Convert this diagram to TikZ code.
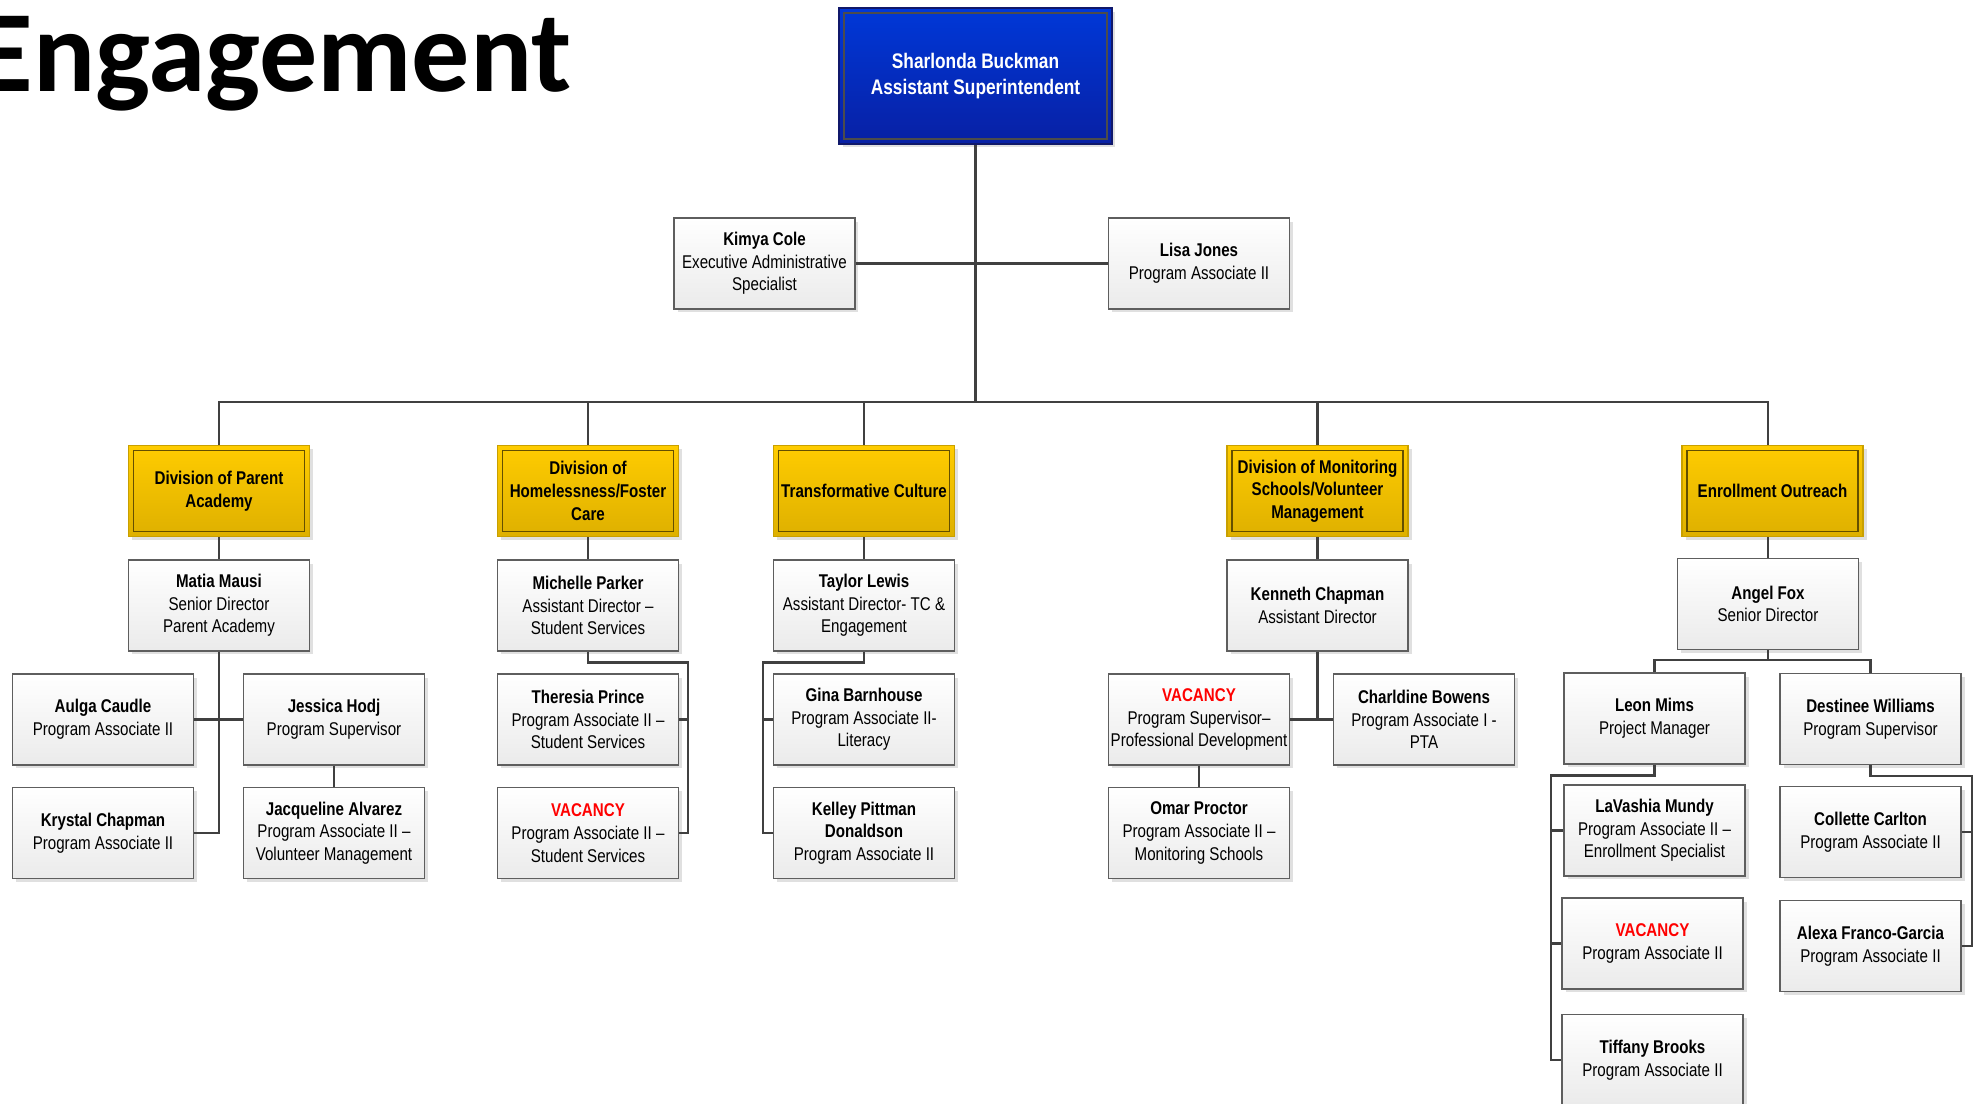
\documentclass[tikz,border=0pt]{standalone}
\usepackage{fontspec}
\setmainfont{Liberation Sans}
\newfontfamily\narrowfont[FakeStretch=0.82]{Liberation Sans}
\newfontfamily\titlefont{Carlito}
\usetikzlibrary{shadows}

\definecolor{linkgray}{HTML}{404040}
\definecolor{boxedge}{HTML}{5E5E5E}
\definecolor{headtop}{HTML}{0038D8}
\definecolor{headbot}{HTML}{0820A4}
\definecolor{headedge}{HTML}{10186A}
\definecolor{goldtop}{HTML}{FFCC00}
\definecolor{goldbot}{HTML}{DEB000}
\definecolor{goldedge}{HTML}{C9A000}
\definecolor{vacred}{HTML}{FF0000}

\newcommand{\vacancy}{\textcolor{vacred}{\textbf{VACANCY}}}

\begin{document}
\begin{tikzpicture}[x=0.02cm, y=-0.02cm,
  link/.style={draw=linkgray, line width=1.4pt},
  unitbox/.style={draw=boxedge, line width=0.8pt, top color=white, bottom color=black!8,
    minimum width=3.62cm, minimum height=1.82cm, inner sep=1pt, align=center,
    font=\narrowfont\fontsize{10.5}{12.9}\selectfont,
    drop shadow={shadow xshift=0.7mm, shadow yshift=-0.7mm, fill=black!12, opacity=1}},
  divbox/.style={unitbox, draw=goldedge, top color=goldtop, bottom color=goldbot,
    font=\narrowfont\bfseries\fontsize{10.5}{12.9}\selectfont,
    path picture={\draw[black!55!goldbot, line width=0.7pt]
      ([shift={(2.8pt,-2.8pt)}]path picture bounding box.north west) rectangle
      ([shift={(-2.8pt,2.8pt)}]path picture bounding box.south east);}},
  headbox/.style={unitbox, draw=headedge, line width=1pt, top color=headtop, bottom color=headbot,
    minimum width=5.46cm, minimum height=2.72cm, text=white,
    font=\narrowfont\bfseries\fontsize{12}{14.7}\selectfont,
    path picture={\draw[black!70, line width=0.7pt]
      ([shift={(2.8pt,-2.8pt)}]path picture bounding box.north west) rectangle
      ([shift={(-2.8pt,2.8pt)}]path picture bounding box.south east);}}]
\useasboundingbox (0,0) rectangle (1980,1104);

\node[font=\titlefont\bfseries\fontsize{66}{70}\selectfont, anchor=base east, inner sep=0pt] (title) at (572,92) {Engagement};

% top of the chart
\node[headbox] (sb) at (975.5,76) {Sharlonda Buckman\\Assistant Superintendent};
\node[unitbox] (kc) at (764.5,263.5) {\textbf{Kimya Cole}\\Executive Administrative\\Specialist};
\node[unitbox] (lj) at (1199,263.5) {\textbf{Lisa Jones}\\Program Associate II};

% divisions
\node[divbox] (dpa) at (219,491) {Division of Parent\\Academy};
\node[divbox] (dhf) at (588,491) {Division of\\Homelessness/Foster\\Care};
\node[divbox] (dtc) at (864,491) {Transformative Culture};
\node[divbox] (dms) at (1317.5,491) {Division of Monitoring\\Schools/Volunteer\\Management};
\node[divbox] (deo) at (1772.5,491) {Enrollment Outreach};

% heads of the divisions
\node[unitbox] (mm) at (219,605.5) {\textbf{Matia Mausi}\\Senior Director\\Parent Academy};
\node[unitbox] (mp) at (588,605.5) {\textbf{Michelle Parker}\\Assistant Director \textendash\\Student Services};
\node[unitbox] (tl) at (864,605.5) {\textbf{Taylor Lewis}\\Assistant Director- TC \&\\Engagement};
\node[unitbox] (kch) at (1317.5,605.5) {\textbf{Kenneth Chapman}\\Assistant Director};
\node[unitbox] (af) at (1768,604) {\textbf{Angel Fox}\\Senior Director};

% staff
\node[unitbox] (ac) at (103,719.5) {\textbf{Aulga Caudle}\\Program Associate II};
\node[unitbox] (jh) at (334,719.5) {\textbf{Jessica Hodj}\\Program Supervisor};
\node[unitbox] (kcp) at (103,833) {\textbf{Krystal Chapman}\\Program Associate II};
\node[unitbox] (ja) at (334,833) {\textbf{Jacqueline Alvarez}\\Program Associate II \textendash\\Volunteer Management};

\node[unitbox] (tp) at (588,719.5) {\textbf{Theresia Prince}\\Program Associate II \textendash\\Student Services};
\node[unitbox] (vss) at (588,833) {\vacancy\\Program Associate II \textendash\\Student Services};

\node[unitbox] (gb) at (864,719.5) {\textbf{Gina Barnhouse}\\Program Associate II-\\Literacy};
\node[unitbox] (kpd) at (864,833) {\textbf{Kelley Pittman}\\\textbf{Donaldson}\\Program Associate II};

\node[unitbox] (vpd) at (1199,719.5) {\vacancy\\Program Supervisor\textendash\\Professional Development};
\node[unitbox] (cb) at (1424,719.5) {\textbf{Charldine Bowens}\\Program Associate I -\\PTA};
\node[unitbox] (op) at (1199,833) {\textbf{Omar Proctor}\\Program Associate II \textendash\\Monitoring Schools};

\node[unitbox] (lm) at (1654.5,718.5) {\textbf{Leon Mims}\\Project Manager};
\node[unitbox] (dw) at (1870.5,719) {\textbf{Destinee Williams}\\Program Supervisor};
\node[unitbox] (lvm) at (1654.5,830.5) {\textbf{LaVashia Mundy}\\Program Associate II \textendash\\Enrollment Specialist};
\node[unitbox] (cc) at (1870.5,832) {\textbf{Collette Carlton}\\Program Associate II};
\node[unitbox] (vpa) at (1652.5,943.5) {\vacancy\\Program Associate II};
\node[unitbox] (afg) at (1870.5,946) {\textbf{Alexa Franco-Garcia}\\Program Associate II};
\node[unitbox] (tb) at (1652.5,1060) {\textbf{Tiffany Brooks}\\Program Associate II};

% connectors
\coordinate (bus) at (975.5,402);
\draw[link] (sb) -- (bus);
\draw[link] (kc) -- (lj);
\draw[link] (dpa) |- (af |- bus) -- (af |- deo.north);
\foreach \d in {dhf,dtc,dms}
  \draw[link] (\d) -- (\d |- bus);
\foreach \d/\m in {dpa/mm,dhf/mp,dtc/tl,dms/kch}
  \draw[link] (\d) -- (\m);
\draw[link] (af |- deo.south) -- (af);

% parent academy
\draw[link] (mm) -- (mm |- kcp) -- (kcp);
\draw[link] (ac) -- (jh);
\draw[link] (jh) -- (ja);

% homelessness / foster care
\coordinate (hfspine) at (688,0);
\draw[link] (mp.south) -- ++(0,11) -| (hfspine |- vss) -- (vss);
\draw[link] (hfspine |- tp) -- (tp);

% transformative culture
\coordinate (tcspine) at (763,0);
\draw[link] (tl.south) -- ++(0,11) -| (tcspine |- kpd) -- (kpd);
\draw[link] (tcspine |- gb) -- (gb);

% monitoring schools
\draw[link] (kch) -- (kch |- cb);
\draw[link] (vpd) -- (cb);
\draw[link] (vpd) -- (op);

% enrollment outreach
\draw[link] (af.south) -- ++(0,10) coordinate (afj) -| (lm);
\draw[link] (afj) -| (dw);
\coordinate (lmspine) at (1551,0);
\draw[link] (lm.south) -- ++(0,11) -| (lmspine |- tb) -- (tb);
\foreach \s in {lvm,vpa}
  \draw[link] (lmspine |- \s) -- (\s);
\coordinate (dwspine) at (1972,0);
\draw[link] (dw.south) -- ++(0,11) -| (dwspine |- afg) -- (afg);
\draw[link] (dwspine |- cc) -- (cc);
\end{tikzpicture}
\end{document}
